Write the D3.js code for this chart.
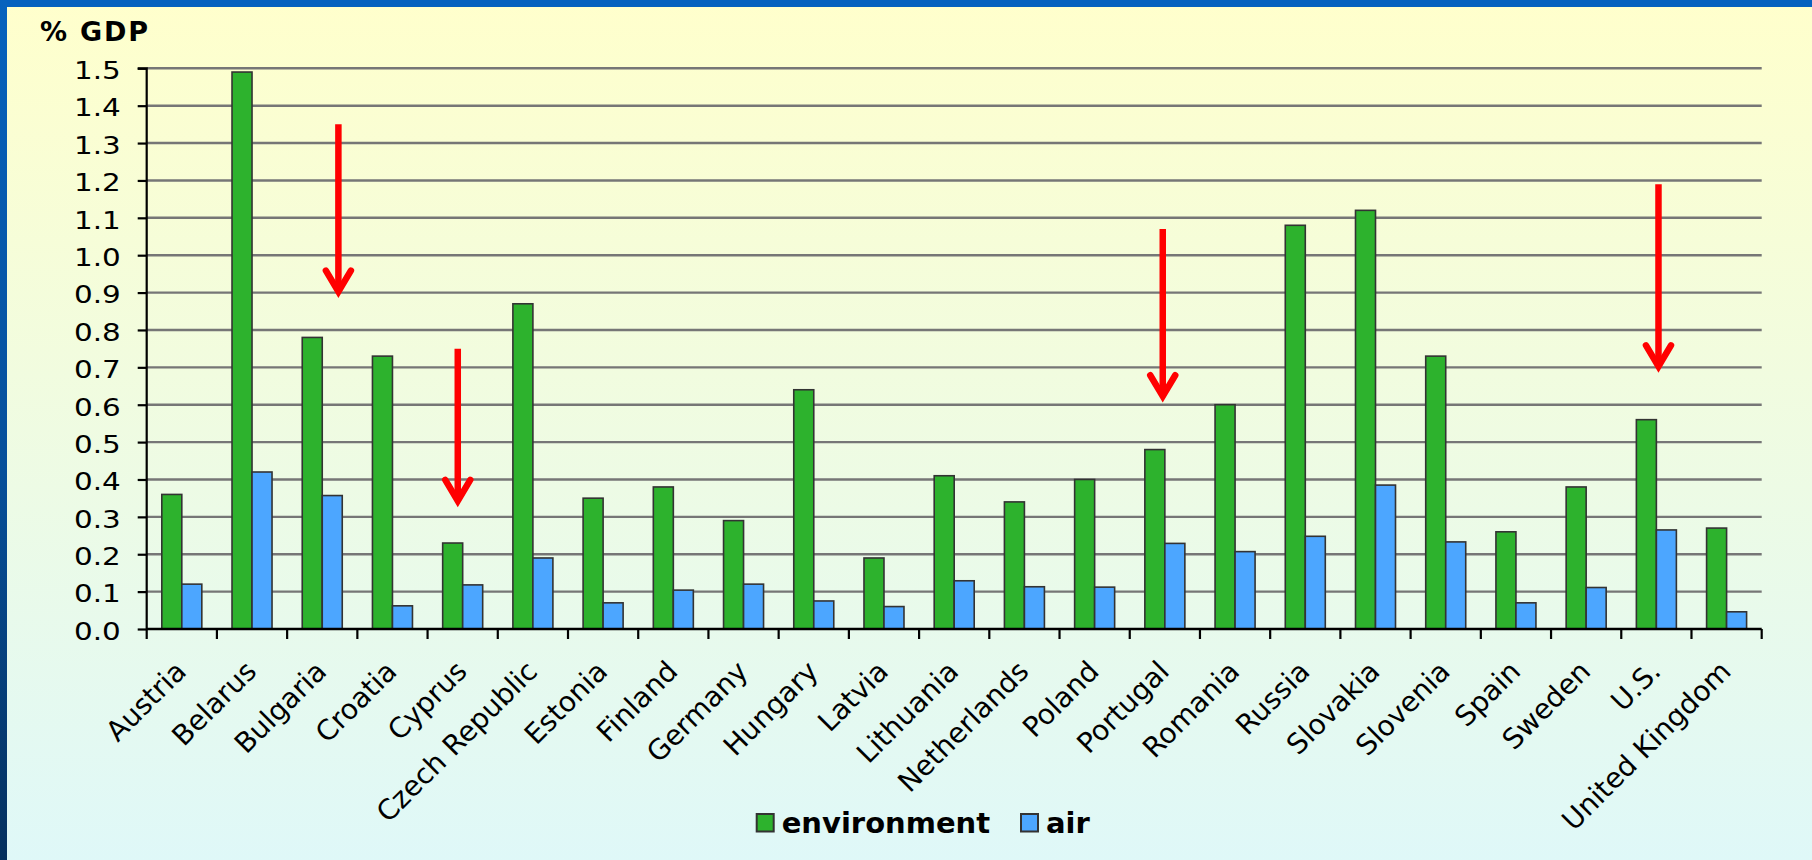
<!DOCTYPE html>
<html>
<head>
<meta charset="utf-8">
<script src="https://cdn.jsdelivr.net/npm/d3@7/dist/d3.min.js"></script>
<style>
  html, body { margin: 0; padding: 0; }
  body { width: 1812px; height: 860px; overflow: hidden; }
  svg { display: block; }
</style>
</head>
<body>
<svg id="chart" width="1812" height="860"></svg>
<script>
// Public spending, % of GDP
const countries = ["Austria", "Belarus", "Bulgaria", "Croatia", "Cyprus", "Czech Republic",
  "Estonia", "Finland", "Germany", "Hungary", "Latvia", "Lithuania", "Netherlands",
  "Poland", "Portugal", "Romania", "Russia", "Slovakia", "Slovenia", "Spain", "Sweden",
  "U.S.", "United Kingdom"];
const environment = [0.36, 1.49, 0.78, 0.73, 0.23, 0.87, 0.35, 0.38, 0.29, 0.64, 0.19, 0.41,
  0.34, 0.40, 0.48, 0.60, 1.08, 1.12, 0.73, 0.26, 0.38, 0.56, 0.27];
const air = [0.12, 0.42, 0.357, 0.062, 0.118, 0.19, 0.07, 0.104, 0.12, 0.075, 0.06, 0.129,
  0.113, 0.112, 0.229, 0.207, 0.248, 0.385, 0.233, 0.07, 0.111, 0.265, 0.046];
const seriesNames = ["environment", "air"];
const yTicks = [0, 0.1, 0.2, 0.3, 0.4, 0.5, 0.6, 0.7, 0.8, 0.9, 1.0, 1.1, 1.2, 1.3, 1.4, 1.5];
// Highlight arrows: country, horizontal nudge within the band, start and tip values
const arrowCountries = ["Bulgaria", "Cyprus", "Portugal", "U.S."];
const arrowNudge = [0.23, -0.07, -0.03, 0.03];
const arrowFrom = [1.35, 0.75, 1.07, 1.19];
const arrowTo = [0.90, 0.34, 0.62, 0.70];

const colors = { environment: "#2db22d", air: "#4ca6ff" };

const svg = d3.select("#chart");
const W = 1812, H = 860;

// Background
const defs = svg.append("defs");
const bg = defs.append("linearGradient").attr("id", "bg").attr("x1", 0).attr("y1", 0).attr("x2", 0).attr("y2", 1);
bg.append("stop").attr("offset", "0%").attr("stop-color", "#ffffcc");
bg.append("stop").attr("offset", "100%").attr("stop-color", "#dff8f8");
const side = defs.append("linearGradient").attr("id", "side").attr("x1", 0).attr("y1", 0).attr("x2", 0).attr("y2", 1);
side.append("stop").attr("offset", "0%").attr("stop-color", "#0662be");
side.append("stop").attr("offset", "55%").attr("stop-color", "#064f9a");
side.append("stop").attr("offset", "100%").attr("stop-color", "#05305e");

svg.append("rect").attr("width", W).attr("height", H).attr("fill", "url(#bg)");
svg.append("rect").attr("x", 0).attr("y", 0).attr("width", W).attr("height", 7).attr("fill", "#0561bf");
svg.append("rect").attr("x", 0).attr("y", 0).attr("width", 7).attr("height", H).attr("fill", "url(#side)");

// Plot area
const plotLeft = 146.7, plotRight = 1761.7, plotTop = 68.3, plotBottom = 629;
const x0 = d3.scaleBand().domain(countries).range([plotLeft, plotRight]).paddingInner(0).paddingOuter(0);
const x1 = d3.scaleBand().domain(seriesNames).range([0, x0.bandwidth()]).paddingInner(0).paddingOuter(0.755);
const y = d3.scaleLinear().domain([0, 1.5]).range([plotBottom, plotTop]);

// Gridlines
svg.append("g").selectAll("line").data(yTicks.filter(d => d > 0)).join("line")
  .attr("x1", plotLeft).attr("x2", plotRight)
  .attr("y1", d => y(d)).attr("y2", d => y(d))
  .attr("stroke", "#767676").attr("stroke-width", 2.4);

// Bars
const rows = countries.map((c, i) => ({ country: c, values: [
  { key: "environment", value: environment[i] },
  { key: "air", value: air[i] }
]}));
const groups = svg.append("g").selectAll("g").data(rows).join("g")
  .attr("transform", d => `translate(${x0(d.country)},0)`);
groups.selectAll("rect").data(d => d.values).join("rect")
  .attr("x", d => x1(d.key))
  .attr("y", d => y(d.value))
  .attr("width", x1.bandwidth())
  .attr("height", d => y(0) - y(d.value))
  .attr("fill", d => colors[d.key])
  .attr("stroke", "#333")
  .attr("stroke-width", 1.6);

// Y axis; the tick labels are set in a wide face
const yAxis = d3.axisLeft(y).tickValues(yTicks).tickSize(9).tickPadding(6).tickFormat(d3.format(".1f"));
const gy = svg.append("g").attr("transform", `translate(${plotLeft},0)`).call(yAxis);
gy.select(".domain").attr("stroke", "#000").attr("stroke-width", 2.2).attr("d", `M-9,${plotTop}H0V${plotBottom}`);
gy.selectAll(".tick line").attr("stroke", "#000").attr("stroke-width", 2.2);
gy.selectAll(".tick text")
  .attr("x", 0).attr("dy", "0.42em")
  .attr("transform", "translate(-26,0) scale(1.2,1)")
  .attr("font-family", "DejaVu Sans").attr("font-size", 24.5).attr("fill", "#000");

// X axis (category boundaries as ticks)
const gx = svg.append("g");
gx.append("line").attr("x1", plotLeft).attr("x2", plotRight).attr("y1", plotBottom).attr("y2", plotBottom)
  .attr("stroke", "#000").attr("stroke-width", 2.4);
const bounds = countries.map(c => x0(c)).concat([plotRight]);
gx.selectAll("line.tk").data(bounds).join("line").attr("class", "tk")
  .attr("x1", d => d).attr("x2", d => d).attr("y1", plotBottom).attr("y2", plotBottom + 10)
  .attr("stroke", "#000").attr("stroke-width", 2.2);
gx.selectAll("text").data(countries).join("text")
  .attr("transform", d => `translate(${x0(d) + x0.bandwidth() / 2 + 6},${plotBottom + 44}) rotate(-45)`)
  .attr("text-anchor", "end")
  .attr("font-family", "DejaVu Sans").attr("font-size", 28).attr("fill", "#000")
  .text(d => d);

// Unit label
svg.append("text").attr("x", 40).attr("y", 41)
  .attr("font-family", "DejaVu Sans").attr("font-weight", "bold").attr("font-size", 27)
  .attr("letter-spacing", 1.8).attr("fill", "#000").text("% GDP");

// Legend
const legend = svg.append("g");
const legendX = [756.7, 1021];
seriesNames.forEach((s, i) => {
  legend.append("rect").attr("x", legendX[i]).attr("y", 814).attr("width", 17).attr("height", 17.5)
    .attr("fill", colors[s]).attr("stroke", "#333").attr("stroke-width", 2);
  legend.append("text").attr("x", legendX[i] + 25).attr("y", 832.5)
    .attr("font-family", "DejaVu Sans").attr("font-weight", "bold").attr("font-size", 29)
    .attr("fill", "#000").text(s);
});

// Red arrows
const ag = svg.append("g").attr("stroke", "#ff0000").attr("stroke-width", 6.5)
  .attr("stroke-linecap", "round").attr("fill", "none");
arrowCountries.forEach((c, i) => {
  const ax = x0(c) + x0.bandwidth() * (0.5 + arrowNudge[i]);
  const y1 = y(arrowFrom[i]), y2 = y(arrowTo[i]);
  ag.append("line").attr("x1", ax).attr("x2", ax).attr("y1", y1).attr("y2", y2 - 4).attr("stroke-linecap", "butt");
  ag.append("path").attr("d", `M${ax - 12.5},${y2 - 22}L${ax},${y2 - 1}L${ax + 12.5},${y2 - 22}`)
    .attr("stroke-linejoin", "miter");
});
</script>
</body>
</html>
